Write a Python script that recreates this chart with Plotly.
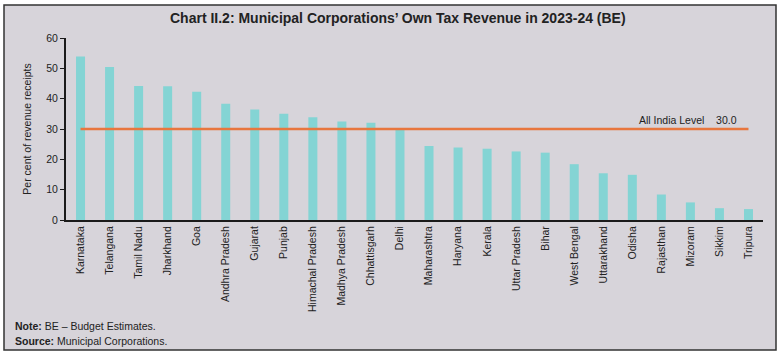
import plotly.graph_objects as go

states = ["Karnataka", "Telangana", "Tamil Nadu", "Jharkhand", "Goa", "Andhra Pradesh",
          "Gujarat", "Punjab", "Himachal Pradesh", "Madhya Pradesh", "Chhattisgarh", "Delhi",
          "Maharashtra", "Haryana", "Kerala", "Uttar Pradesh", "Bihar", "West Bengal",
          "Uttarakhand", "Odisha", "Rajasthan", "Mizoram", "Sikkim", "Tripura"]
values = [53.9, 50.4, 44.2, 44.1, 42.3, 38.3, 36.4, 35.0, 33.9, 32.5, 32.1, 30.2,
          24.4, 23.9, 23.5, 22.6, 22.2, 18.4, 15.4, 14.9, 8.4, 5.8, 3.9, 3.6]
all_india_level = 30.0
y_ticks = [0, 10, 20, 30, 40, 50, 60]

W, H = 783, 357
L, R, T, B = 66, 20, 38, 137
pw, ph = W - L - R, H - T - B

def px_x(px):
    return (px - L) / pw

def px_y(py):
    return (H - B - py) / ph

BG = "#d7d4da"
FONT = "Liberation Sans, Arial, sans-serif"

fig = go.Figure()
fig.add_trace(go.Bar(x=states, y=values, width=0.31, marker=dict(color="#84d4d4", line=dict(width=0)),
                     showlegend=False))
fig.add_trace(go.Scatter(x=[states[0], states[-1]], y=[all_india_level, all_india_level], mode="lines",
                         line=dict(color="#e8763e", width=2.5), showlegend=False))

fig.update_layout(
    width=W, height=H,
    margin=dict(l=L, r=R, t=T, b=B, autoexpand=False),
    paper_bgcolor="white", plot_bgcolor=BG,
    font=dict(family=FONT, size=10.5, color="#222"),
    xaxis=dict(range=[-0.5, len(states) - 0.5], tickangle=-90, showline=True, linecolor="#1a1a1a",
               linewidth=2, ticks="", showgrid=False, tickfont=dict(size=10.5, color="#222"),
               automargin=False, fixedrange=True),
    yaxis=dict(range=[0, 60], tickvals=y_ticks, showline=True, linecolor="#1a1a1a", linewidth=2,
               ticks="outside", ticklen=4, tickcolor="#1a1a1a", showgrid=False, zeroline=False,
               tickfont=dict(size=10.5, color="#222"), automargin=False, fixedrange=True,
               title=dict(text="Per cent of revenue receipts", font=dict(size=10.5, color="#222"),
                          standoff=13)),
)

# framed grey panel behind everything
fig.add_shape(type="rect", xref="paper", yref="paper", x0=px_x(4), x1=px_x(776), y0=px_y(350), y1=px_y(5),
              line=dict(color="#333", width=1.5), fillcolor=BG, layer="below")

fig.add_annotation(text="<b>Chart II.2: Municipal Corporations’ Own Tax Revenue in 2023-24 (BE)</b>",
                   xref="paper", yref="paper", x=px_x(398), y=px_y(18), xanchor="center", yanchor="middle",
                   showarrow=False, font=dict(size=14, color="#222", family=FONT))
fig.add_annotation(text="All India Level\u00a0\u00a0\u00a0\u00a030.0", xref="paper", yref="y",
                   x=px_x(739), y=all_india_level, xanchor="right", yanchor="bottom", yshift=1,
                   showarrow=False, font=dict(size=10.5, color="#222"))
fig.add_annotation(text="<b>Note:</b> BE – Budget Estimates.", xref="paper", yref="paper",
                   x=px_x(13), y=px_y(326), xanchor="left", yanchor="middle", showarrow=False,
                   font=dict(size=10.5, color="#222"))
fig.add_annotation(text="<b>Source:</b> Municipal Corporations.", xref="paper", yref="paper",
                   x=px_x(13), y=px_y(341), xanchor="left", yanchor="middle", showarrow=False,
                   font=dict(size=10.5, color="#222"))

fig.write_html("out.html", config={"displayModeBar": False},
               post_script="document.body.style.margin='0';document.body.style.overflow='hidden';")
